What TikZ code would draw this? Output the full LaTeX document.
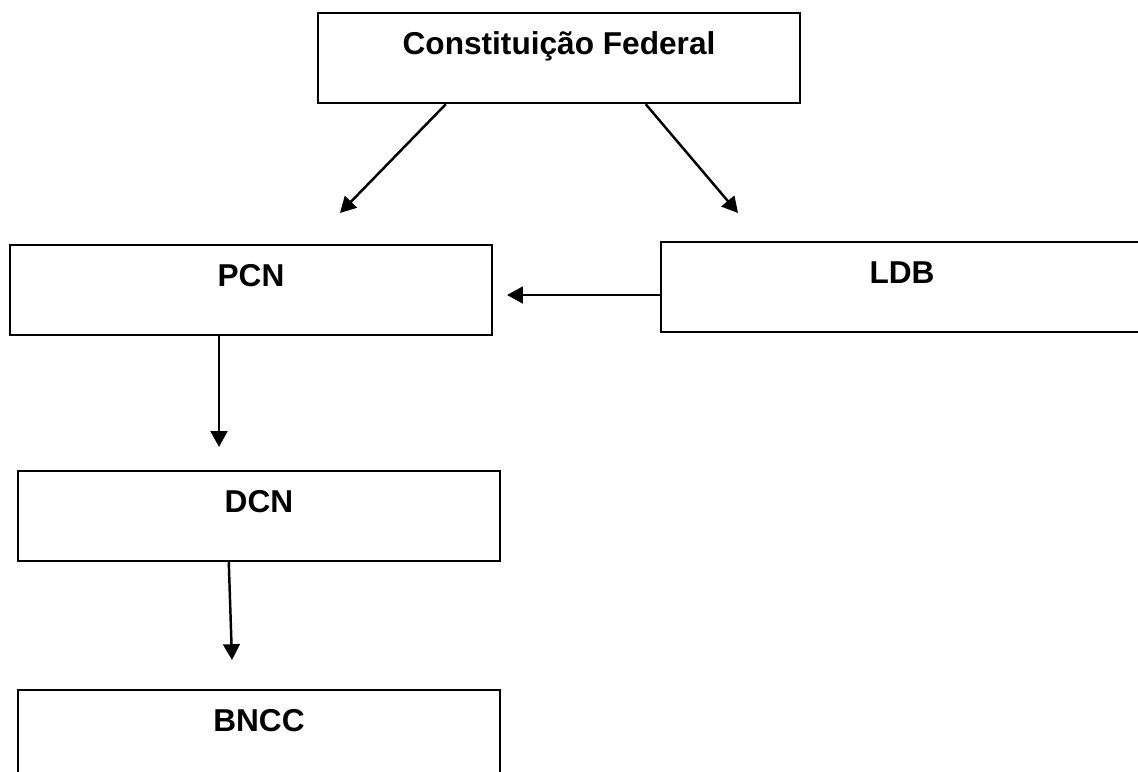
\documentclass[tikz,border=0pt]{standalone}
\usepackage{fontspec}
\setmainfont{Liberation Sans}
\usetikzlibrary{arrows.meta}
\tikzstyle{stage}=[draw, line width=1.4pt, minimum width=9.64cm, minimum height=1.8cm, inner sep=0pt, text height=0.83cm, text depth=0.97cm, font=\fontsize{18}{21}\selectfont\bfseries]
\tikzstyle{flow}=[line width=1.4pt, -{Triangle[length=9pt, width=9.5pt]}]

\begin{document}
\begin{tikzpicture}[x=0.02cm, y=-0.02cm]
      \useasboundingbox (0, 0) rectangle (1138, 771);
      \node[stage] (cf) at (559, 58) {Constituição Federal};
      \node[stage] (pcn) at (251, 290) {PCN};
      \node[stage] (ldb) at (902, 287) {LDB};
      \node[stage] (dcn) at (259, 516) {DCN};
      \node[stage] (bncc) at (259, 735) {BNCC};
      \coordinate (pcn_top_tip) at (340, 213);
      \coordinate (ldb_top_tip) at (738, 213);
      \coordinate (pcn_side_tip) at (507, 295);
      \coordinate (dcn_tip) at (219, 447);
      \coordinate (bncc_tip) at (232, 660);
      \draw[flow] ([xshift=2.58cm]cf.south west) to (pcn_top_tip);
      \draw[flow] ([xshift=6.58cm]cf.south west) to (ldb_top_tip);
      \draw[flow] (ldb.west |- pcn_side_tip) to (pcn_side_tip);
      \draw[flow] (pcn.south -| dcn_tip) to (dcn_tip);
      \draw[flow] ([xshift=4.24cm]dcn.south west) to (bncc_tip);
    \end{tikzpicture}
\end{document}
